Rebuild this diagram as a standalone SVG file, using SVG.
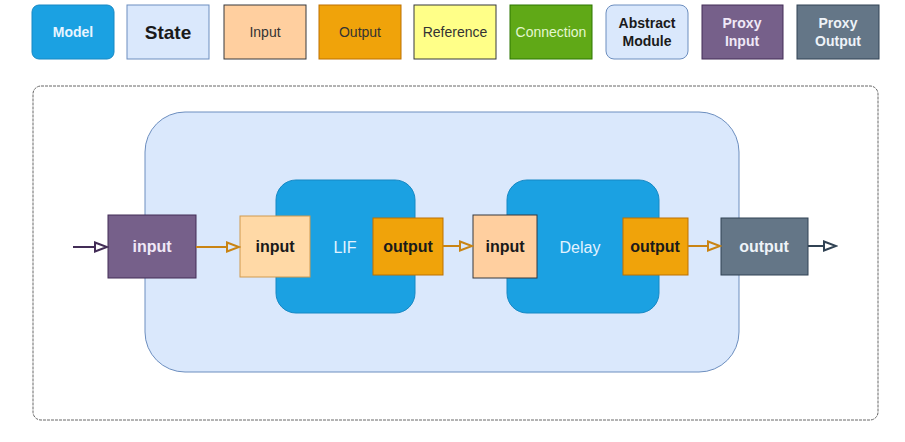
<svg xmlns="http://www.w3.org/2000/svg" width="905" height="442" viewBox="0 0 905 442">
<style>
text{font-family:"Liberation Sans",Arial,sans-serif;text-anchor:middle;dominant-baseline:central}
.lg{font-size:14px}
.b{font-weight:bold}
.port{font-size:16px;font-weight:bold}
.model{fill:#1ba1e2;stroke:#1688c4;stroke-width:1}
.state{fill:#dae8fc;stroke:#6c8ebf;stroke-width:1}
.inp{fill:#ffcf9f;stroke:#36393d;stroke-width:1}
.inp2{fill:#ffd9a6;stroke:#d09a4e;stroke-width:1}
.out{fill:#f0a30a;stroke:#bd7000;stroke-width:1}
.ref{fill:#ffff88;stroke:#36393d;stroke-width:1}
.con{fill:#60a917;stroke:#2d7600;stroke-width:1}
.pin{fill:#76608a;stroke:#432d57;stroke-width:1}
.pout{fill:#647687;stroke:#314354;stroke-width:1}
.d{fill:#1a1a1a}
</style>
<defs>
<marker id="ap" markerUnits="userSpaceOnUse" markerWidth="15" markerHeight="12" refX="1" refY="6" orient="auto"><path d="M1,1.5 L13,6 L1,10.5 Z" fill="none" stroke="#432d57" stroke-width="2"/></marker>
<marker id="ao" markerUnits="userSpaceOnUse" markerWidth="15" markerHeight="12" refX="1" refY="6" orient="auto"><path d="M1,1.5 L13,6 L1,10.5 Z" fill="none" stroke="#c98414" stroke-width="2"/></marker>
<marker id="ag" markerUnits="userSpaceOnUse" markerWidth="15" markerHeight="12" refX="1" refY="6" orient="auto"><path d="M1,1.5 L13,6 L1,10.5 Z" fill="none" stroke="#314354" stroke-width="2"/></marker>
</defs>
<rect width="905" height="442" fill="#ffffff"/>
<g id="legend">
<g id="lg-model"><rect class="model" x="32" y="5" width="82" height="54" rx="7"/><text class="lg b" x="73" y="32" fill="#e8f5ff">Model</text></g>
<g id="lg-state"><rect class="state" x="127" y="5" width="82" height="54"/><text class="b" x="168" y="32" font-size="19" fill="#1a1a1a">State</text></g>
<g id="lg-input"><rect class="inp" x="224" y="5" width="82" height="54"/><text class="lg" x="265" y="32" fill="#333333">Input</text></g>
<g id="lg-output"><rect class="out" x="319" y="5" width="82" height="54"/><text class="lg" x="360" y="32" fill="#333333">Output</text></g>
<g id="lg-reference"><rect class="ref" x="414" y="5" width="82" height="54"/><text class="lg" x="455" y="32" fill="#333333">Reference</text></g>
<g id="lg-connection"><rect class="con" x="510" y="5" width="82" height="54"/><text class="lg" x="551" y="32" fill="#e4f7cf">Connection</text></g>
<g id="lg-abstract"><rect class="state" x="606" y="5" width="82" height="54" rx="8"/><text class="lg b" x="647" y="23" fill="#1a1a1a">Abstract</text><text class="lg b" x="647" y="41" fill="#1a1a1a">Module</text></g>
<g id="lg-proxyin"><rect class="pin" x="702" y="5" width="81" height="54"/><text class="lg b" x="742" y="23" fill="#f0e8f7">Proxy</text><text class="lg b" x="742" y="41" fill="#f0e8f7">Input</text></g>
<g id="lg-proxyout"><rect class="pout" x="797" y="5" width="82" height="54"/><text class="lg b" x="838" y="23" fill="#eef3f8">Proxy</text><text class="lg b" x="838" y="41" fill="#eef3f8">Output</text></g>
</g>
<g id="frame"><rect x="33" y="86" width="845" height="334" rx="8" fill="none" stroke="#666666" stroke-width="1" stroke-dasharray="3,1"/></g>
<g id="module"><rect class="state" x="145" y="112" width="594" height="260" rx="40"/></g>
<g id="lif"><rect class="model" x="276" y="180" width="139" height="133" rx="20"/><text x="345" y="247" font-size="16" fill="#e3f3ff">LIF</text></g>
<g id="delay"><rect class="model" x="507" y="180" width="152" height="133" rx="20"/><text x="580" y="247" font-size="16" fill="#e3f3ff">Delay</text></g>
<g id="proxy-input"><rect class="pin" x="108" y="215" width="88" height="63"/><text class="port" x="152" y="246" fill="#f0e8f7">input</text></g>
<g id="lif-input"><rect class="inp2" x="240" y="216" width="70" height="61"/><text class="port d" x="275" y="246">input</text></g>
<g id="lif-output"><rect class="out" x="373" y="218" width="70" height="57"/><text class="port d" x="408" y="246">output</text></g>
<g id="delay-input"><rect class="inp" x="473" y="215" width="64" height="63"/><text class="port d" x="505" y="246">input</text></g>
<g id="delay-output"><rect class="out" x="623" y="218" width="65" height="57"/><text class="port d" x="655" y="246">output</text></g>
<g id="proxy-output"><rect class="pout" x="721" y="218" width="87" height="57"/><text class="port" x="764" y="246" fill="#eef3f8">output</text></g>
<g id="connectors" fill="none" stroke-width="2">
<line x1="73" y1="247" x2="95" y2="247" stroke="#432d57" marker-end="url(#ap)"/>
<line x1="196" y1="247" x2="227" y2="247" stroke="#c98414" marker-end="url(#ao)"/>
<line x1="443" y1="246" x2="460" y2="246" stroke="#c98414" marker-end="url(#ao)"/>
<line x1="688" y1="246" x2="708" y2="246" stroke="#c98414" marker-end="url(#ao)"/>
<line x1="808" y1="246" x2="824" y2="246" stroke="#314354" marker-end="url(#ag)"/>
</g>
</svg>
